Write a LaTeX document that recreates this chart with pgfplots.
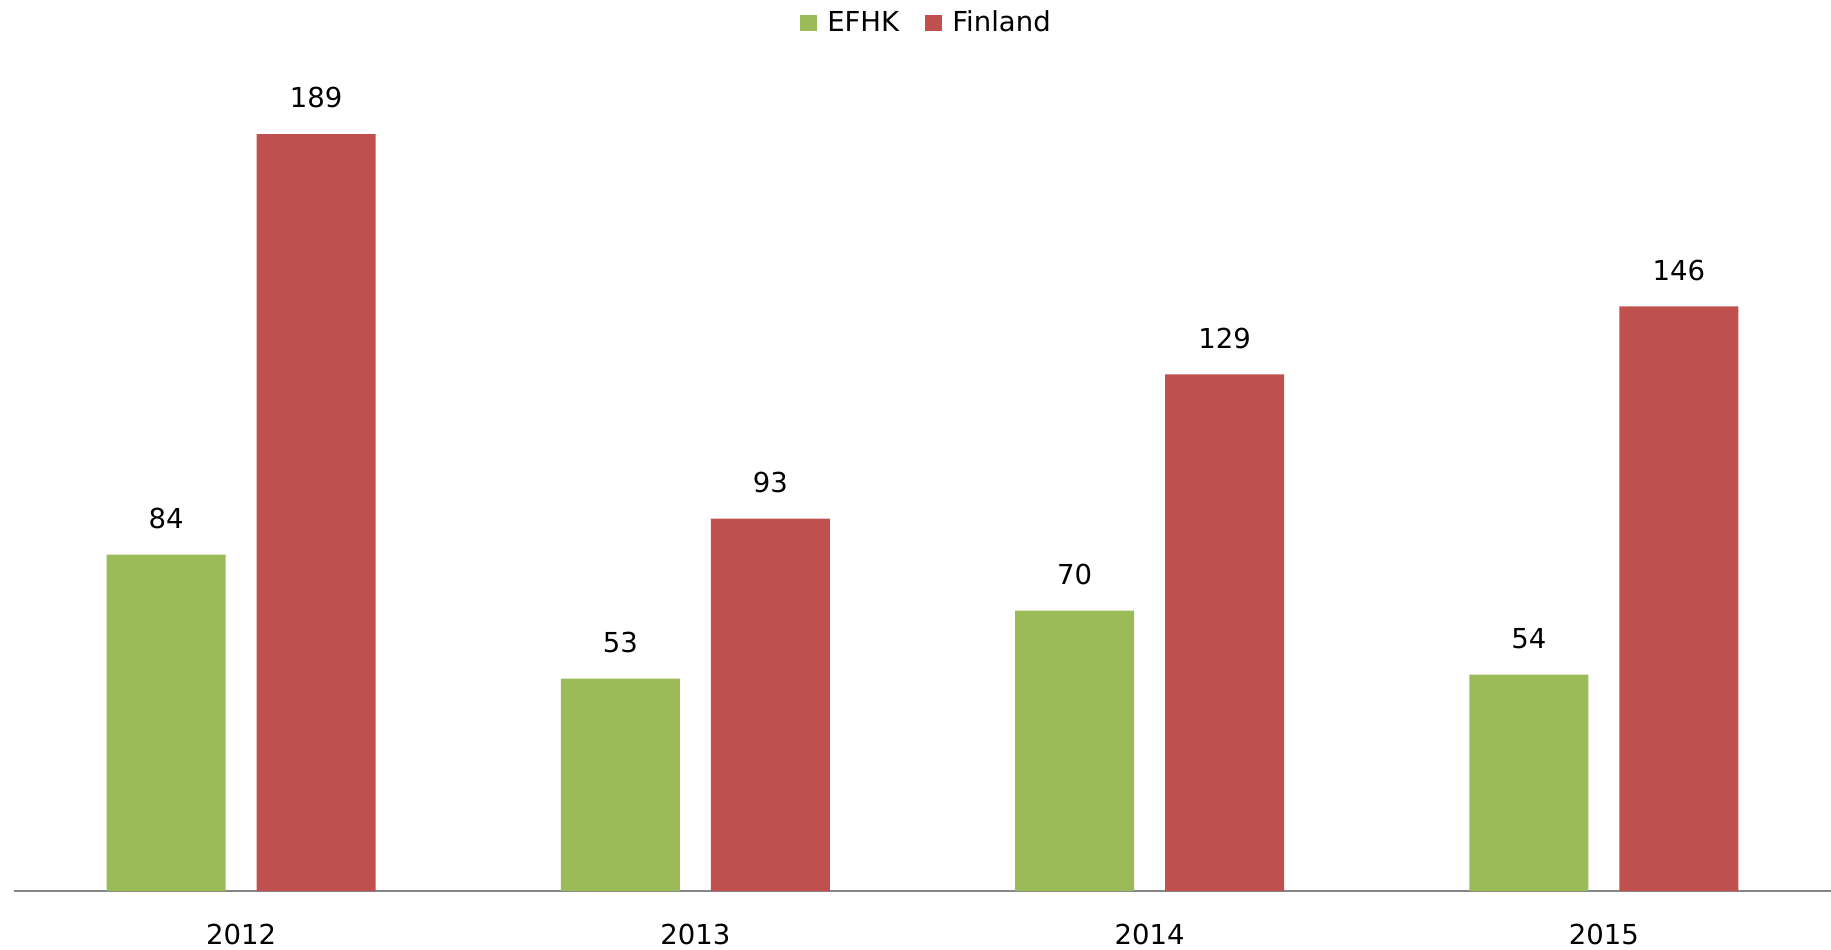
\documentclass[border=0pt]{standalone}
\usepackage{pgfplots}
\pgfplotsset{compat=1.18}
\usepackage{fontspec}
\setmainfont{DejaVu Sans}
\definecolor{efhk}{HTML}{9BBB59}
\definecolor{fin}{HTML}{C0504D}
\definecolor{axisgray}{HTML}{868686}

\begin{document}
\begin{tikzpicture}
\begin{axis}[
    at={(0,0)}, anchor=south west,
    scale only axis,
    width=726.8pt, height=336.4pt,
    ymin=0, ymax=210,
    xmin=-0.5, xmax=3.5,
    axis y line=none,
    axis x line*=bottom,
    x axis line style={draw=axisgray, line width=0.9pt, -},
    xtick={0,1,2,3},
    xticklabels={2012,2013,2014,2015},
    xtick style={draw=none},
    xticklabel style={font=\fontsize{11}{13}\selectfont, anchor=center, yshift=-17.2pt},
    major tick length=0pt,
    ybar, bar width=47.6pt,
    nodes near coords,
    every node near coord/.append style={font=\fontsize{11}{13}\selectfont, anchor=center, yshift=14.5pt, text=black},
    /pgf/number format/assume math mode=true,
    clip=false,
    legend columns=2,
    legend style={draw=none, at={(0.503,1.032)}, anchor=center,
        font=\fontsize{11}{13}\selectfont,
        /tikz/every even column/.append style={column sep=8.5pt}},
    legend image code/.code={\fill[#1] (0pt,-3.2pt) rectangle (6.5pt,3.3pt);
        \path (8.8pt,0pt);},
]
\addplot[fill=efhk, draw=none, bar shift=-30pt] coordinates {(0,84) (1,53) (2,70) (3,54)};
\addlegendentry{EFHK}
\addplot[fill=fin, draw=none, bar shift=30pt] coordinates {(0,189) (1,93) (2,129) (3,146)};
\addlegendentry{Finland}
\end{axis}
\pgfresetboundingbox
\useasboundingbox (-5.6pt,-23.2pt) rectangle (726.8pt,356.4pt);
\end{tikzpicture}
\end{document}
